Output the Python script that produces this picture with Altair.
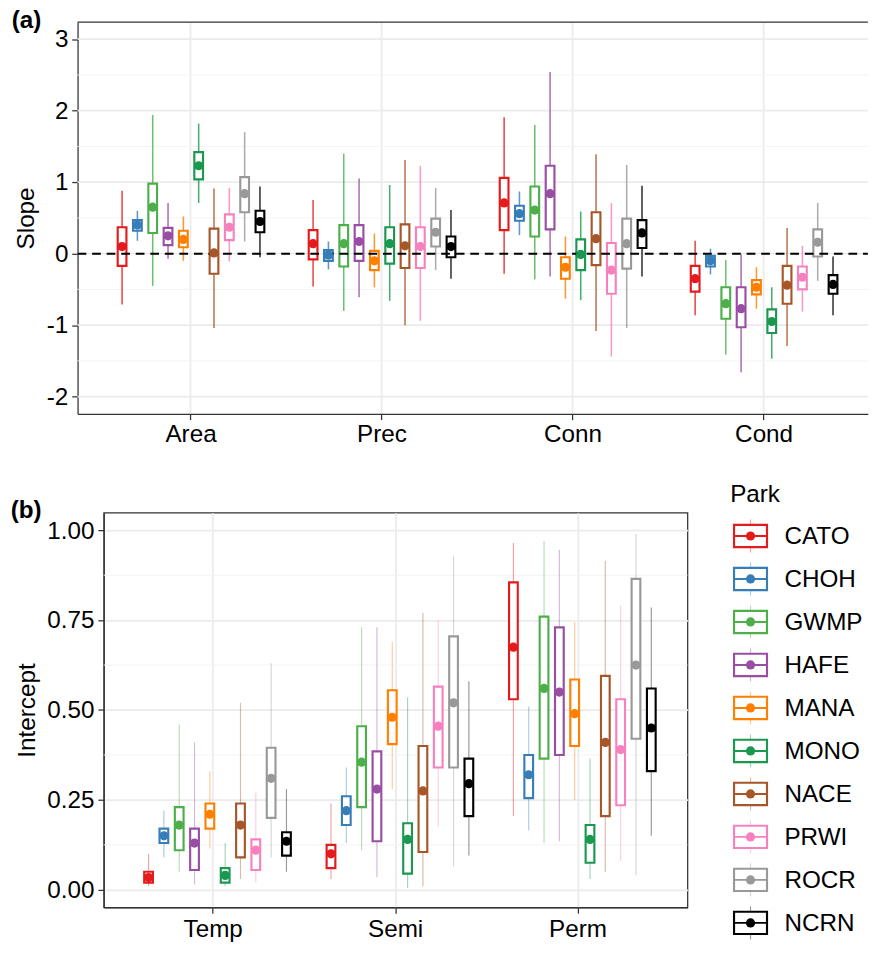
import altair as alt
import pandas as pd

FONT = "Liberation Sans"

parks = ["CATO", "CHOH", "GWMP", "HAFE", "MANA", "MONO", "NACE", "PRWI", "ROCR", "NCRN"]
park_colors = ["#E41A1C", "#377EB8", "#4DAF4A", "#984EA3", "#FF7F00",
               "#1A9850", "#A65628", "#F781BF", "#999999", "#000000"]

# ---------------- panel (a): slopes ----------------
slope_covs = ["Area", "Prec", "Conn", "Cond"]
slope_lo = [
    [-0.71, 0.18, -0.45, -0.07, -0.10, 0.71, -1.04, -0.11, 0.17, -0.05],
    [-0.46, -0.22, -0.80, -0.61, -0.47, -0.66, -1.00, -0.94, -0.23, -0.35],
    [-0.28, 0.26, -0.36, -0.32, -0.63, -0.65, -1.08, -1.44, -1.04, -0.32],
    [-0.86, -0.29, -1.41, -1.66, -0.77, -1.47, -1.29, -0.81, -0.38, -0.86],
]
slope_q25 = [
    [-0.17, 0.32, 0.29, 0.12, 0.09, 1.04, -0.28, 0.19, 0.58, 0.30],
    [-0.08, -0.10, -0.18, -0.10, -0.23, -0.14, -0.20, -0.20, 0.10, -0.05],
    [0.33, 0.46, 0.24, 0.34, -0.35, -0.23, -0.16, -0.56, -0.21, 0.08],
    [-0.53, -0.18, -0.91, -1.03, -0.57, -1.11, -0.70, -0.50, -0.04, -0.56],
]
slope_mean = [
    [0.10, 0.40, 0.65, 0.25, 0.20, 1.23, 0.01, 0.37, 0.84, 0.45],
    [0.14, -0.02, 0.14, 0.17, -0.10, 0.14, 0.11, 0.10, 0.30, 0.10],
    [0.71, 0.56, 0.61, 0.84, -0.19, -0.01, 0.21, -0.23, 0.14, 0.29],
    [-0.35, -0.10, -0.70, -0.77, -0.47, -0.95, -0.44, -0.33, 0.16, -0.43],
]
slope_q75 = [
    [0.37, 0.47, 0.98, 0.36, 0.32, 1.42, 0.35, 0.55, 1.07, 0.60],
    [0.33, 0.05, 0.40, 0.40, 0.04, 0.37, 0.41, 0.37, 0.49, 0.24],
    [1.06, 0.67, 0.94, 1.23, -0.05, 0.20, 0.58, 0.15, 0.49, 0.47],
    [-0.17, -0.03, -0.47, -0.47, -0.37, -0.78, -0.17, -0.18, 0.34, -0.30],
]
slope_hi = [
    [0.88, 0.60, 1.94, 0.71, 0.52, 1.82, 0.91, 0.92, 1.70, 0.94],
    [0.75, 0.17, 1.40, 1.05, 0.28, 0.96, 1.31, 1.23, 0.92, 0.61],
    [1.91, 0.87, 1.80, 2.54, 0.24, 0.59, 1.39, 0.71, 1.24, 0.95],
    [0.18, 0.07, -0.09, -0.01, -0.19, -0.47, 0.36, 0.11, 0.71, -0.04],
]
slope_ticks = [-2, -1, 0, 1, 2, 3]
slope_minor = [-1.5, -0.5, 0.5, 1.5, 2.5]
zero_line = [0]

# ---------------- panel (b): intercepts ----------------
int_types = ["Temp", "Semi", "Perm"]
int_lo = [
    [0.01, 0.09, 0.05, 0.015, 0.115, 0.01, 0.03, 0.02, 0.09, 0.05],
    [0.03, 0.13, 0.11, 0.035, 0.28, 0.005, 0.01, 0.175, 0.065, 0.095],
    [0.205, 0.165, 0.13, 0.135, 0.25, 0.03, 0.05, 0.08, 0.04, 0.15],
]
int_q25 = [
    [0.02, 0.13, 0.11, 0.055, 0.17, 0.02, 0.09, 0.055, 0.20, 0.095],
    [0.06, 0.18, 0.23, 0.135, 0.405, 0.045, 0.105, 0.34, 0.34, 0.205],
    [0.53, 0.255, 0.365, 0.375, 0.40, 0.075, 0.205, 0.235, 0.42, 0.33],
]
int_mean = [
    [0.034, 0.15, 0.18, 0.13, 0.21, 0.04, 0.18, 0.11, 0.31, 0.135],
    [0.10, 0.22, 0.355, 0.28, 0.48, 0.14, 0.275, 0.455, 0.52, 0.295],
    [0.675, 0.32, 0.56, 0.55, 0.49, 0.14, 0.41, 0.39, 0.625, 0.45],
]
int_q75 = [
    [0.05, 0.17, 0.23, 0.17, 0.24, 0.06, 0.24, 0.14, 0.395, 0.16],
    [0.125, 0.26, 0.455, 0.385, 0.555, 0.185, 0.40, 0.565, 0.705, 0.365],
    [0.855, 0.375, 0.76, 0.73, 0.585, 0.18, 0.595, 0.53, 0.865, 0.56],
]
int_hi = [
    [0.10, 0.22, 0.46, 0.41, 0.33, 0.13, 0.52, 0.27, 0.63, 0.28],
    [0.24, 0.34, 0.73, 0.73, 0.69, 0.535, 0.77, 0.75, 0.93, 0.58],
    [0.965, 0.51, 0.97, 0.945, 0.745, 0.365, 0.915, 0.79, 0.99, 0.785],
]
int_ticks = [0, 0.25, 0.5, 0.75, 1.0]
int_minor = [0.125, 0.375, 0.625, 0.875]


def long_table(groups, lo, q25, mean, q75, hi):
    rows = []
    for g, l, a, m, b, h in zip(groups, lo, q25, mean, q75, hi):
        for i, p in enumerate(parks):
            rows.append(dict(grp=g, park=p, lo=l[i], q25=a[i], mean=m[i], q75=b[i], hi=h[i]))
    return pd.DataFrame(rows)


df_a = long_table(slope_covs, slope_lo, slope_q25, slope_mean, slope_q75, slope_hi)
df_b = long_table(int_types, int_lo, int_q25, int_mean, int_q75, int_hi)

color_scale = alt.Scale(domain=parks, range=park_colors)
col = alt.Color("park:N", scale=color_scale, legend=None)
stk = alt.Stroke("park:N", scale=color_scale, legend=None)

BOXW = 9
TOPB = 0.79 * 25  # distance from text top to its baseline (fontSize 25)


def grid_rules(values, yscale, yaxis, x0, x1, color, width):
    return alt.Chart(pd.DataFrame({"v": values})).mark_rule(
        color=color, strokeWidth=width
    ).encode(y=alt.Y("v:Q", scale=yscale, axis=yaxis), x=alt.value(x0), x2=alt.value(x1))


def data_layers(df, xscale, xoff_range, yscale, yaxis, xaxis, rule_w, rule_op):
    base = alt.Chart(df).encode(
        x=alt.X("grp:N", scale=xscale, axis=xaxis),
        xOffset=alt.XOffset("park:N", scale=alt.Scale(domain=parks, paddingInner=0,
                                                     paddingOuter=0, range=xoff_range)),
    )
    ci = base.mark_rule(strokeWidth=rule_w, opacity=rule_op).encode(
        y=alt.Y("lo:Q", scale=yscale, axis=yaxis), y2="hi:Q", color=col)
    box = base.mark_bar(width=BOXW, fill="white", strokeWidth=2.2).encode(
        y=alt.Y("q25:Q", scale=yscale, axis=yaxis), y2="q75:Q", stroke=stk)
    mid = base.mark_tick(size=BOXW, thickness=2).encode(
        y=alt.Y("mean:Q", scale=yscale, axis=yaxis), color=col)
    dot = base.mark_circle(size=90, opacity=1).encode(
        y=alt.Y("mean:Q", scale=yscale, axis=yaxis), color=col)
    return ci, box, mid, dot


def label(text, x, y_base, bold=False):
    return alt.Chart(pd.DataFrame({"t": [text]})).mark_text(
        align="left", baseline="top", fontSize=25, font=FONT, color="black",
        fontWeight="bold" if bold else "normal"
    ).encode(text="t:N", x=alt.value(x), y=alt.value(y_base - TOPB))


# ---- panel (a): its frame starts 27 px left of panel (b)'s
SHIFT = 27
WA, HA = 788, 404
xa = alt.Scale(domain=slope_covs, range=[-SHIFT, WA], paddingInner=0,
               paddingOuter=0.0685, align=0.685)
ya = alt.Scale(domain=[-2.24, 3.24], nice=False, zero=False)
ax_ya = alt.Axis(values=slope_ticks, title="Slope", labelExpr="datum.value + ''",
                 titlePadding=8, offset=SHIFT, grid=False)
ax_xa = alt.Axis(title=None, labelAngle=0, grid=True, bandPosition=0.5, labelPadding=3)
major_a = grid_rules(slope_ticks, ya, ax_ya, -SHIFT, WA, "#EBEBEB", 1.8)
minor_a = grid_rules(slope_minor, ya, ax_ya, -SHIFT, WA, "#F3F3F3", 1)
ci_a, box_a, mid_a, dot_a = data_layers(df_a, xa, [19.5, 177.5], ya, ax_ya, ax_xa, 1.6, 0.8)
zero_a = alt.Chart(pd.DataFrame({"v": zero_line})).mark_rule(
    strokeDash=[9, 6], strokeWidth=2, color="black"
).encode(y=alt.Y("v:Q", scale=ya, axis=ax_ya), x=alt.value(-SHIFT), x2=alt.value(WA))
top_a = alt.Chart(pd.DataFrame({"v": [0]})).mark_rule(color="#333333", strokeWidth=1.3).encode(
    x=alt.value(-SHIFT), x2=alt.value(WA), y=alt.value(0))
lab_a = label("(a)", -95, 6, bold=True)

panel_a = alt.layer(major_a, minor_a, ci_a, box_a, zero_a, mid_a, dot_a, top_a, lab_a).properties(
    width=WA, height=HA, view=alt.ViewBackground(stroke="transparent"))

# ---- panel (b)
WB, HB = 602, 407
xb = alt.Scale(domain=int_types, paddingInner=0, paddingOuter=0.1)
yb = alt.Scale(domain=[-0.049, 1.049], nice=False, zero=False)
ax_yb = alt.Axis(values=int_ticks, title="Intercept", format=".2f", titlePadding=8)
ax_xb = alt.Axis(title=None, labelAngle=0, grid=True, bandPosition=0.5, labelPadding=4)
minor_b = grid_rules(int_minor, yb, ax_yb, 0, WB, "#F3F3F3", 1)
ci_b, box_b, mid_b, dot_b = data_layers(df_b, xb, [19.0, 169.0], yb, ax_yb, ax_xb, 1.2, 0.4)
inner_b = alt.layer(minor_b, ci_b, box_b, mid_b, dot_b)

# legend (built from the park list)
leg_df = pd.DataFrame({"park": parks, "idx": list(range(len(parks)))})
ly = alt.Y("idx:Q", scale=alt.Scale(domain=[0, len(parks) - 1], range=[24, 423]), axis=None)
leg = alt.Chart(leg_df)
leg_line = leg.mark_rule(strokeWidth=1.2, opacity=0.4, yOffset=-17, y2Offset=17).encode(
    x=alt.value(667), y=ly, y2="idx:Q", color=col)
leg_box = leg.mark_rect(fill="white", strokeWidth=2.2, yOffset=-11.5, y2Offset=11.5).encode(
    x=alt.value(650), x2=alt.value(684), y=ly, y2="idx:Q", stroke=stk)
leg_mid = leg.mark_rule(strokeWidth=2).encode(
    x=alt.value(650), x2=alt.value(684), y=ly, color=col)
leg_dot = leg.mark_circle(size=90, opacity=1).encode(x=alt.value(667), y=ly, color=col)
leg_lab = leg.mark_text(align="left", baseline="middle", fontSize=25, font=FONT,
                        color="black").encode(x=alt.value(702), y=ly, text="park:N")
leg_title = label("Park", 646, -11)
lab_b = label("(b)", -96, 5, bold=True)
legend_b = alt.layer(leg_line, leg_box, leg_mid, leg_dot, leg_lab, leg_title, lab_b)

panel_b = alt.layer(inner_b, legend_b).resolve_scale(y="independent").properties(
    width=WB, height=HB)

chart = alt.vconcat(panel_a, panel_b, spacing=35).properties(
    padding={"left": 10, "top": -7, "right": 0, "bottom": -14}
).configure(font=FONT).configure_axis(
    labelFont=FONT, labelFontSize=25, labelColor="black",
    titleFont=FONT, titleFontSize=25, titleFontWeight="normal", titleColor="black",
    tickColor="#333333", tickSize=6, tickWidth=1.3,
    domainColor="#333333", domainWidth=1.3,
    gridColor="#EBEBEB", gridWidth=1.8, labelPadding=4,
).configure_view(stroke="#333333", strokeWidth=1.3)

chart.save("out.html", embed_options={"renderer": "svg", "actions": False})
